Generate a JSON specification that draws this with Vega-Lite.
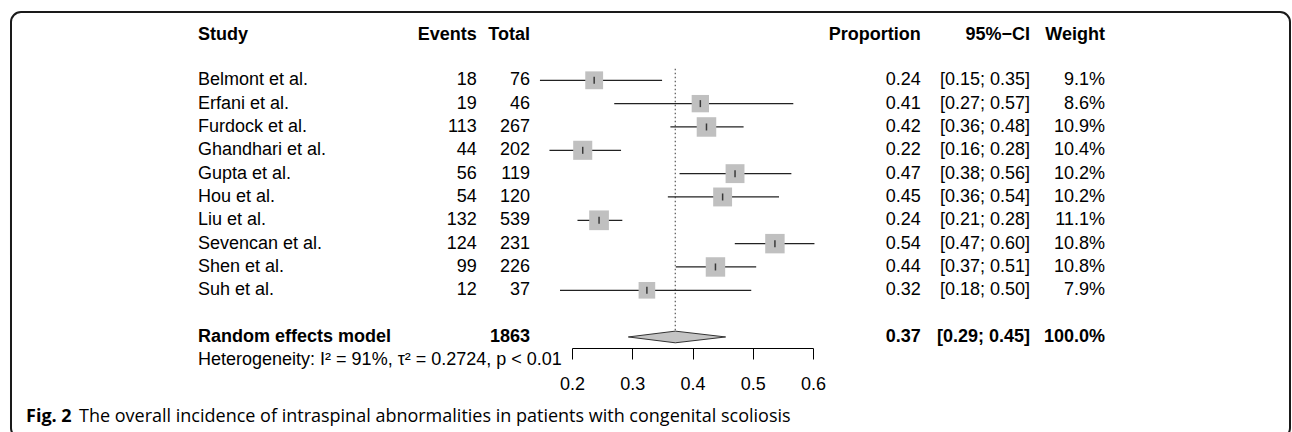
{
  "$schema": "https://vega.github.io/schema/vega-lite/v6.json",
  "width": 1292,
  "height": 432,
  "autosize": {"type": "fit", "contains": "padding"},
  "padding": {"left": 11, "top": 12, "right": 2, "bottom": -6},
  "background": "white",
  "config": {
    "view": {"stroke": "#1a1a1a", "strokeWidth": 2, "cornerRadius": 10},
    "text": {"font": "Liberation Sans", "fontSize": 18, "color": "#000", "baseline": "middle"}
  },
  "datasets": {
    "studies": [
      {"row": 0, "study": "Belmont et al.", "events": 18, "total": 76, "est": 0.2368, "lower": 0.1468, "upper": 0.3495, "ci": "[0.15; 0.35]", "weight": 0.091},
      {"row": 1, "study": "Erfani et al.", "events": 19, "total": 46, "est": 0.4130, "lower": 0.2701, "upper": 0.5673, "ci": "[0.27; 0.57]", "weight": 0.086},
      {"row": 2, "study": "Furdock et al.", "events": 113, "total": 267, "est": 0.4232, "lower": 0.3633, "upper": 0.4848, "ci": "[0.36; 0.48]", "weight": 0.109},
      {"row": 3, "study": "Ghandhari et al.", "events": 44, "total": 202, "est": 0.2178, "lower": 0.1626, "upper": 0.2814, "ci": "[0.16; 0.28]", "weight": 0.104},
      {"row": 4, "study": "Gupta et al.", "events": 56, "total": 119, "est": 0.4706, "lower": 0.3785, "upper": 0.5641, "ci": "[0.38; 0.56]", "weight": 0.102},
      {"row": 5, "study": "Hou et al.", "events": 54, "total": 120, "est": 0.4500, "lower": 0.3591, "upper": 0.5436, "ci": "[0.36; 0.54]", "weight": 0.102},
      {"row": 6, "study": "Liu et al.", "events": 132, "total": 539, "est": 0.2449, "lower": 0.2091, "upper": 0.2835, "ci": "[0.21; 0.28]", "weight": 0.111},
      {"row": 7, "study": "Sevencan et al.", "events": 124, "total": 231, "est": 0.5368, "lower": 0.4702, "upper": 0.6024, "ci": "[0.47; 0.60]", "weight": 0.108},
      {"row": 8, "study": "Shen et al.", "events": 99, "total": 226, "est": 0.4381, "lower": 0.3723, "upper": 0.5057, "ci": "[0.37; 0.51]", "weight": 0.108},
      {"row": 9, "study": "Suh et al.", "events": 12, "total": 37, "est": 0.3243, "lower": 0.1801, "upper": 0.4975, "ci": "[0.18; 0.50]", "weight": 0.079}
    ],
    "pooled": [
      {"row": 11, "label": "Random effects model", "total": 1863, "est": 0.3714, "lower": 0.2935, "upper": 0.455, "ci": "[0.29; 0.45]", "weight": 1.0}
    ],
    "diamond": [
      {"x": 0.2935, "top": 11, "bot": 11},
      {"x": 0.3714, "top": 10.75, "bot": 11.25},
      {"x": 0.455, "top": 11, "bot": 11}
    ]
  },
  "layer": [
    {
      "data": {"name": "pooled"},
      "mark": {"type": "rule", "color": "#555", "strokeWidth": 1.2, "strokeDash": [1.5, 2.5]},
      "encoding": {
        "x": {"field": "est", "type": "quantitative", "scale": {"domain": [0.2, 0.6], "range": [561, 802], "nice": false, "zero": false},
          "axis": {"values": [0.2, 0.3, 0.4, 0.5, 0.6], "format": ".1f", "title": null, "grid": false, "offset": -90,
            "domainColor": "#000", "domainWidth": 1, "tickColor": "#000", "tickSize": 11, "tickWidth": 1,
            "labelFont": "Liberation Sans", "labelFontSize": 18, "labelColor": "#000", "labelPadding": 16, "labelFlush": false}},
        "y": {"datum": -0.5, "type": "quantitative", "scale": {"domain": [-3, 15], "range": [-1.7, 418.3], "nice": false, "zero": false}, "axis": null},
        "y2": {"datum": 10.75}
      }
    },
    {
      "data": {"name": "studies"},
      "mark": {"type": "rule", "color": "#222", "strokeWidth": 1.3},
      "encoding": {
        "x": {"field": "lower", "type": "quantitative"},
        "x2": {"field": "upper"},
        "y": {"field": "row", "type": "quantitative"}
      }
    },
    {
      "data": {"name": "studies"},
      "mark": {"type": "point", "shape": "square", "filled": true, "color": "#c0c0c0", "opacity": 1, "strokeWidth": 0},
      "encoding": {
        "x": {"field": "est", "type": "quantitative"},
        "y": {"field": "row", "type": "quantitative"},
        "size": {"field": "weight", "type": "quantitative", "scale": {"domain": [0, 0.12], "range": [0, 420], "zero": true}, "legend": null}
      }
    },
    {
      "data": {"name": "studies"},
      "mark": {"type": "tick", "orient": "vertical", "color": "#000", "size": 7, "thickness": 1.5},
      "encoding": {
        "x": {"field": "est", "type": "quantitative"},
        "y": {"field": "row", "type": "quantitative"}
      }
    },
    {
      "data": {"name": "diamond"},
      "mark": {"type": "area", "orient": "vertical", "color": "#c4c4c4", "stroke": "#333", "strokeWidth": 1, "interpolate": "linear", "opacity": 1},
      "encoding": {
        "x": {"field": "x", "type": "quantitative"},
        "y": {"field": "top", "type": "quantitative"},
        "y2": {"field": "bot"}
      }
    },
    {
      "data": {"name": "studies"},
      "mark": {"type": "text", "align": "left"},
      "encoding": {"x": {"datum": -0.4207}, "y": {"field": "row", "type": "quantitative"}, "text": {"field": "study"}}
    },
    {
      "data": {"name": "studies"},
      "mark": {"type": "text", "align": "right"},
      "encoding": {"x": {"datum": 0.0418}, "y": {"field": "row", "type": "quantitative"}, "text": {"field": "events"}}
    },
    {
      "data": {"name": "studies"},
      "mark": {"type": "text", "align": "right"},
      "encoding": {"x": {"datum": 0.1303}, "y": {"field": "row", "type": "quantitative"}, "text": {"field": "total"}}
    },
    {
      "data": {"name": "studies"},
      "mark": {"type": "text", "align": "right"},
      "encoding": {"x": {"datum": 0.7788}, "y": {"field": "row", "type": "quantitative"}, "text": {"field": "est", "format": ".2f"}}
    },
    {
      "data": {"name": "studies"},
      "mark": {"type": "text", "align": "right"},
      "encoding": {"x": {"datum": 0.9602}, "y": {"field": "row", "type": "quantitative"}, "text": {"field": "ci"}}
    },
    {
      "data": {"name": "studies"},
      "mark": {"type": "text", "align": "right"},
      "encoding": {"x": {"datum": 1.0846}, "y": {"field": "row", "type": "quantitative"}, "text": {"field": "weight", "format": ".1%"}}
    },
    {
      "data": {"name": "pooled"},
      "mark": {"type": "text", "align": "left", "fontWeight": "bold"},
      "encoding": {"x": {"datum": -0.4207}, "y": {"field": "row", "type": "quantitative"}, "text": {"field": "label"}}
    },
    {
      "data": {"name": "pooled"},
      "mark": {"type": "text", "align": "right", "fontWeight": "bold"},
      "encoding": {"x": {"datum": 0.1303}, "y": {"field": "row", "type": "quantitative"}, "text": {"field": "total"}}
    },
    {
      "data": {"name": "pooled"},
      "mark": {"type": "text", "align": "right", "fontWeight": "bold"},
      "encoding": {"x": {"datum": 0.7788}, "y": {"field": "row", "type": "quantitative"}, "text": {"field": "est", "format": ".2f"}}
    },
    {
      "data": {"name": "pooled"},
      "mark": {"type": "text", "align": "right", "fontWeight": "bold"},
      "encoding": {"x": {"datum": 0.9602}, "y": {"field": "row", "type": "quantitative"}, "text": {"field": "ci"}}
    },
    {
      "data": {"name": "pooled"},
      "mark": {"type": "text", "align": "right", "fontWeight": "bold"},
      "encoding": {"x": {"datum": 1.0846}, "y": {"field": "row", "type": "quantitative"}, "text": {"field": "weight", "format": ".1%"}}
    },
    {
      "data": {"values": [{"h": "Study"}]},
      "mark": {"type": "text", "align": "left", "fontWeight": "bold"},
      "encoding": {"x": {"datum": -0.4207}, "y": {"datum": -1.95}, "text": {"field": "h"}}
    },
    {
      "data": {"values": [{"h": "Events"}]},
      "mark": {"type": "text", "align": "right", "fontWeight": "bold"},
      "encoding": {"x": {"datum": 0.0418}, "y": {"datum": -1.95}, "text": {"field": "h"}}
    },
    {
      "data": {"values": [{"h": "Total"}]},
      "mark": {"type": "text", "align": "right", "fontWeight": "bold"},
      "encoding": {"x": {"datum": 0.1303}, "y": {"datum": -1.95}, "text": {"field": "h"}}
    },
    {
      "data": {"values": [{"h": "Proportion"}]},
      "mark": {"type": "text", "align": "right", "fontWeight": "bold"},
      "encoding": {"x": {"datum": 0.7788}, "y": {"datum": -1.95}, "text": {"field": "h"}}
    },
    {
      "data": {"values": [{"h": "95%−CI"}]},
      "mark": {"type": "text", "align": "right", "fontWeight": "bold"},
      "encoding": {"x": {"datum": 0.9602}, "y": {"datum": -1.95}, "text": {"field": "h"}}
    },
    {
      "data": {"values": [{"h": "Weight"}]},
      "mark": {"type": "text", "align": "right", "fontWeight": "bold"},
      "encoding": {"x": {"datum": 1.0846}, "y": {"datum": -1.95}, "text": {"field": "h"}}
    },
    {
      "data": {"values": [{"h": "Heterogeneity: I² = 91%, τ² = 0.2724, p < 0.01"}]},
      "mark": {"type": "text", "align": "left"},
      "encoding": {"x": {"datum": -0.4207}, "y": {"datum": 12}, "text": {"field": "h"}}
    },
    {
      "data": {"values": [{"h": "Fig. 2"}]},
      "mark": {"type": "text", "align": "left", "fontWeight": "bold", "font": "Open Sans", "fontSize": 18},
      "encoding": {"x": {"datum": -0.7062}, "y": {"datum": 14.42}, "text": {"field": "h"}}
    },
    {
      "data": {"values": [{"h": "The overall incidence of intraspinal abnormalities in patients with congenital scoliosis"}]},
      "mark": {"type": "text", "align": "left", "font": "Open Sans", "fontSize": 18},
      "encoding": {"x": {"datum": -0.6183}, "y": {"datum": 14.42}, "text": {"field": "h"}}
    }
  ]
}
